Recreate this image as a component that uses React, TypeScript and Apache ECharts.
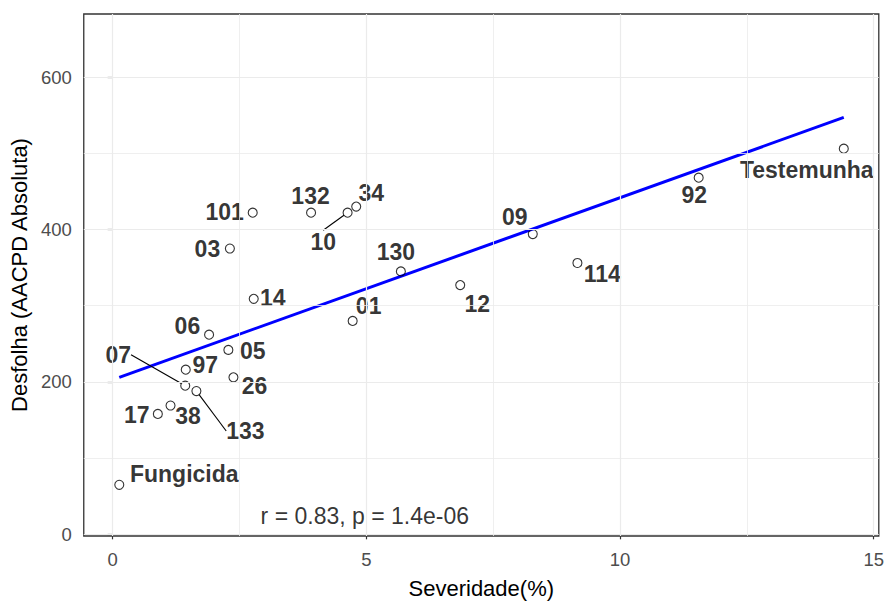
import React, { useEffect, useRef } from "react";
import * as echarts from "echarts";

// ---- Data ----
const pointNames = ["101", "03", "14", "06", "05", "97", "26", "07", "133", "38", "17", "Fungicida", "132", "10", "34", "130", "01", "12", "09", "114", "92", "Testemunha"];
const severidade = [2.76, 2.31, 2.78, 1.9, 2.28, 1.44, 2.38, 1.43, 1.65, 1.14, 0.89, 0.13, 3.91, 4.63, 4.8, 5.68, 4.73, 6.85, 8.28, 9.16, 11.55, 14.41];
const desfolha = [422, 375, 309, 262, 242, 216, 206, 195, 188, 169, 158, 65, 422, 422, 430, 345, 280, 327, 394, 356, 468, 506];

// fitted line (lm) endpoints
const fitX = [0.13, 14.41];
const fitY = [206, 547];

const xTicks = [0, 5, 10, 15];
const yTicks = [0, 200, 400, 600];
const xMinor = [2.5, 7.5, 12.5];
const yMinor = [100, 300, 500];

const corText = "r = 0.83, p = 1.4e-06";
const corPos = [4.97, 24];

// ---- Style: label offsets in px (dx, dy) ----
const labelOffsets: number[][] = [
  [-28, -1], [-22.5, 0], [19, -0.7], [-21.7, -9], [24.5, 1], [19.5, -4.3], [21, 8.3],
  [-67, -31], [49, 40], [17.5, 10.5], [-21, 1], [65, -11], [-0.5, -17], [-24.4, 29],
  [15, -14], [-5, -19], [16, -14.6], [17, 18.5], [-18, -17.4], [24.8, 10.8], [-4.4, 17.7], [-37, 21.3],
];
const withLeader = new Set(["07", "133", "10"]);

const FONT = "'Liberation Sans', Arial, Helvetica, sans-serif";

export default function App() {
  const ref = useRef<HTMLDivElement>(null);
  useEffect(() => {
    if (!ref.current) return;
    const chart = echarts.init(ref.current, undefined, { renderer: "svg" });

    const scatterData = pointNames.map((n, i) => ({
      value: [severidade[i], desfolha[i]],
      name: n,
      labelLine: { show: withLeader.has(n) },
    }));

    const gridLine = (w: number) => ({ color: "#ebebeb", width: w, type: "solid" as const });

    const option: any = {
      animation: false,
      backgroundColor: "#ffffff",
      textStyle: { fontFamily: FONT },
      grid: {
        left: 82.7,
        right: 5,
        top: 14,
        bottom: 64,
        show: true,
        borderColor: "#333333",
        borderWidth: 1.3,
        backgroundColor: "transparent",
      },
      xAxis: {
        type: "value",
        min: -0.57,
        max: 15.1,
        name: "Severidade(%)",
        nameLocation: "middle",
        nameGap: 41,
        nameTextStyle: { fontSize: 22, color: "#000", fontFamily: FONT },
        axisLine: { show: false },
        axisTick: { show: true, length: 5, customValues: xTicks, lineStyle: { color: "#333", width: 1.2 } },
        axisLabel: { customValues: xTicks, fontSize: 18.5, color: "#4d4d4d", margin: 14, fontFamily: FONT },
        splitLine: { show: false },
      },
      yAxis: {
        type: "value",
        min: -2.2,
        max: 682.7,
        name: "Desfolha (AACPD Absoluta)",
        nameLocation: "middle",
        nameGap: 50,
        nameRotate: 90,
        nameTextStyle: { fontSize: 22, color: "#000", fontFamily: FONT },
        axisLine: { show: false },
        axisTick: { show: true, length: 5, customValues: yTicks, lineStyle: { color: "#333", width: 1.2 } },
        axisLabel: { customValues: yTicks, fontSize: 18.5, color: "#4d4d4d", margin: 12, fontFamily: FONT },
        splitLine: { show: false },
      },
      series: [
        {
          type: "line",
          data: [],
          z: 1,
          silent: true,
          markLine: {
            silent: true,
            symbol: ["none", "none"],
            label: { show: false },
            animation: false,
            data: [
              ...xMinor.map((v) => ({ xAxis: v, lineStyle: gridLine(0.8) })),
              ...yMinor.map((v) => ({ yAxis: v, lineStyle: gridLine(0.8) })),
              ...xTicks.map((v) => ({ xAxis: v, lineStyle: gridLine(1.2) })),
              ...yTicks.map((v) => ({ yAxis: v, lineStyle: gridLine(1.2) })),
            ],
          },
        },
        {
          type: "line",
          data: fitX.map((x, i) => [x, fitY[i]]),
          showSymbol: false,
          symbol: "none",
          z: 2,
          lineStyle: { color: "#0000ff", width: 3 },
          silent: true,
        },
        {
          type: "scatter",
          data: scatterData,
          z: 3,
          symbol: "circle",
          symbolSize: 9,
          itemStyle: { color: "rgba(255,255,255,0)", borderColor: "#000", borderWidth: 1.1 },
          label: {
            show: true,
            position: "inside",
            formatter: (p: any) => p.name,
            fontSize: 23,
            fontWeight: "bold",
            color: "#000000",
            textBorderWidth: 0,
            textBorderColor: "transparent",
            fontFamily: FONT,
          },
          labelLine: { show: false, lineStyle: { color: "#000", width: 1.1 } },
          labelLayout: (p: any) => {
            const o = labelOffsets[p.dataIndex];
            return { dx: o[0], dy: o[1] };
          },
        },
        {
          type: "scatter",
          data: [{ value: corPos, name: corText }],
          symbolSize: 0,
          z: 3,
          silent: true,
          label: {
            show: true,
            position: "inside",
            formatter: corText,
            fontSize: 23,
            color: "#000000",
            textBorderWidth: 0,
            textBorderColor: "transparent",
            fontFamily: FONT,
          },
        },
      ],
    };
    chart.setOption(option);
    return () => chart.dispose();
  }, []);
  return <div ref={ref} style={{ width: 887, height: 604, position: "absolute", left: 0, top: 0 }} />;
}
